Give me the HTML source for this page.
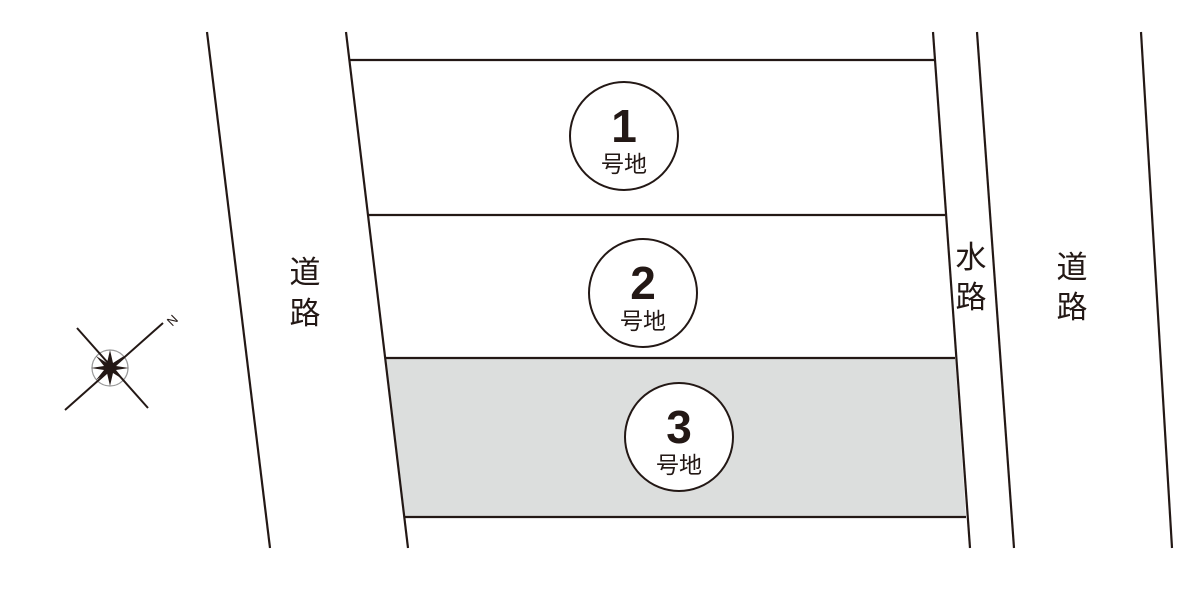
<!DOCTYPE html>
<html><head><meta charset="utf-8"><style>body{margin:0;background:#fff}svg{display:block}</style></head><body>
<svg width="1200" height="595" viewBox="0 0 1200 595" xmlns="http://www.w3.org/2000/svg" font-family="'Liberation Sans','Noto Sans CJK JP',sans-serif">
<polygon points="386,358 955,358 966,517 405,517" fill="#dcdedd"/>
<g stroke="#231815" stroke-width="2.2" fill="none">
<line x1="207" y1="32" x2="270" y2="548"/>
<line x1="346" y1="32" x2="408" y2="548"/>
<line x1="933" y1="32" x2="970" y2="548"/>
<line x1="977" y1="32" x2="1014" y2="548"/>
<line x1="1141" y1="32" x2="1172" y2="548"/>
<line x1="350" y1="60" x2="934" y2="60"/>
<line x1="368" y1="215" x2="945" y2="215"/>
<line x1="386" y1="358" x2="955" y2="358"/>
<line x1="405" y1="517" x2="966" y2="517"/>
</g>
<g fill="#fff" stroke="#231815" stroke-width="2">
<circle cx="624" cy="136" r="54"/>
<circle cx="643" cy="293" r="54"/>
<circle cx="679" cy="437" r="54"/>
</g>
<g fill="#231815" text-anchor="middle">
<text x="624" y="142" font-size="46" font-weight="bold">1</text>
<text x="624" y="172" font-size="23">号地</text>
<text x="643" y="299" font-size="46" font-weight="bold">2</text>
<text x="643" y="329" font-size="23">号地</text>
<text x="679" y="443" font-size="46" font-weight="bold">3</text>
<text x="679" y="473" font-size="23">号地</text>
<text x="305" y="283" font-size="31">道</text>
<text x="305" y="324" font-size="31">路</text>
<text x="971" y="268" font-size="31">水</text>
<text x="971" y="308" font-size="31">路</text>
<text x="1072" y="278" font-size="31">道</text>
<text x="1072" y="318" font-size="31">路</text>
</g>
<g stroke="#231815">
<circle cx="110" cy="368" r="18" fill="none" stroke="#999" stroke-width="1.2"/>
<line x1="65" y1="410" x2="163" y2="323" stroke-width="2"/>
<line x1="77" y1="328" x2="148" y2="408" stroke-width="2"/>
</g>
<polygon fill="#231815" points="110,350 113,363 124,356 116,366 129,368 116,370 124,380 113,373 110,386 107,373 96,380 104,370 91,368 104,366 96,356 107,363"/>
<text x="172" y="325" font-size="13" fill="#231815" text-anchor="middle" transform="rotate(-45 172 320)">N</text>
</svg>
</body></html>
